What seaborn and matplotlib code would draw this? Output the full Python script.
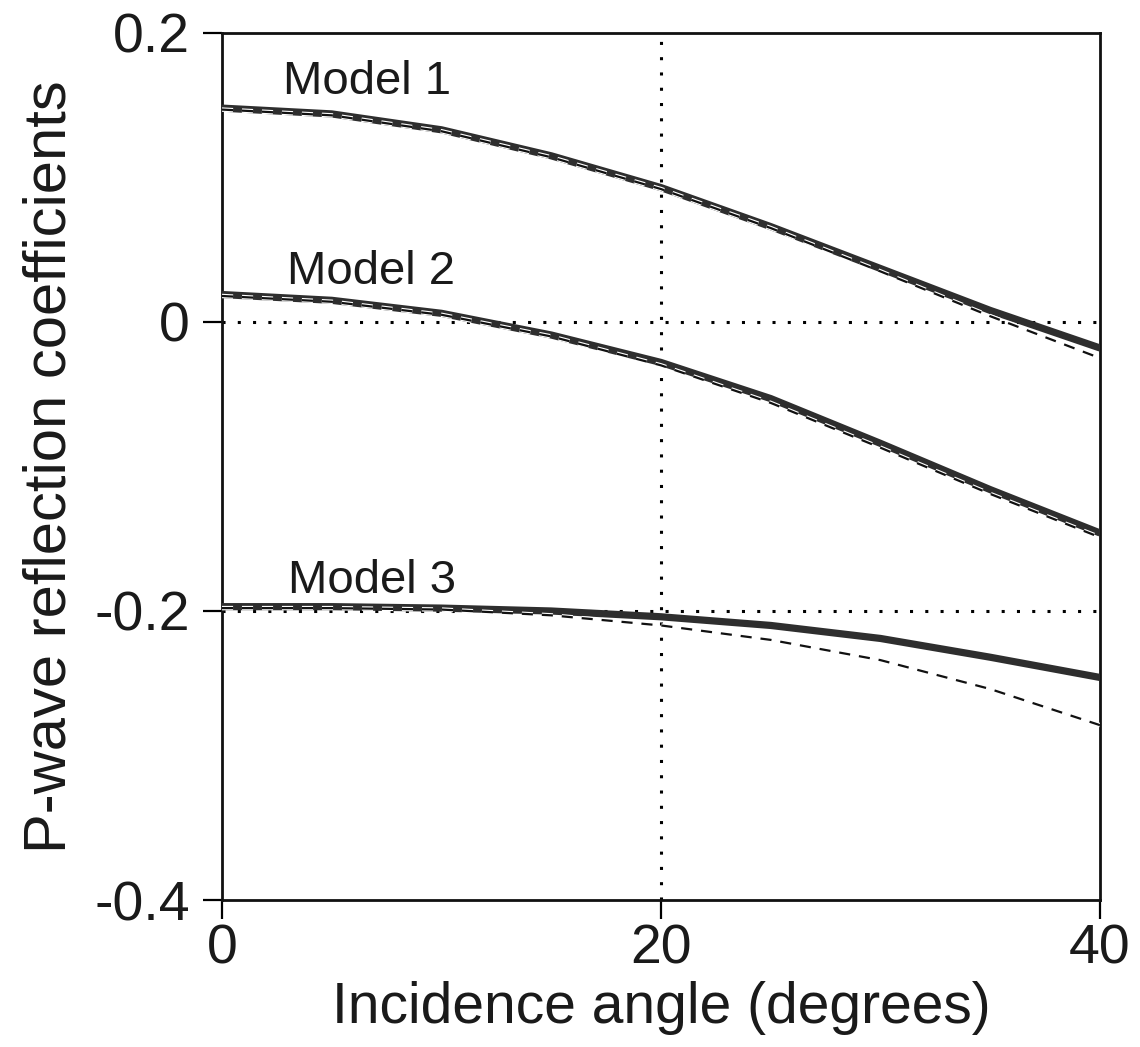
import numpy as np
import pandas as pd
import matplotlib
matplotlib.use("Agg")
import matplotlib.pyplot as plt
import matplotlib.patheffects as pe
import seaborn as sns

# Data (incidence angle in degrees)
angles = [0, 5, 10, 15, 20, 25, 30, 35, 40]

model1_exact = [0.148, 0.144, 0.133, 0.115, 0.093, 0.066, 0.037, 0.008, -0.018]
model1_approx = [0.147, 0.143, 0.132, 0.114, 0.092, 0.065, 0.035, 0.004, -0.025]

model2_exact = [0.019, 0.015, 0.006, -0.009, -0.028, -0.053, -0.084, -0.116, -0.146]
model2_approx = [0.018, 0.014, 0.005, -0.010, -0.030, -0.056, -0.087, -0.119, -0.149]

model3_exact = [-0.197, -0.197, -0.198, -0.200, -0.204, -0.210, -0.219, -0.232, -0.246]
model3_approx = [-0.198, -0.198, -0.199, -0.203, -0.210, -0.220, -0.234, -0.254, -0.279]

model_names = ["Model 1", "Model 2", "Model 3"]
label_x = [2.8, 2.95, 3.0]
label_y = [0.158, 0.026, -0.1875]

x_ticks = [0, 20, 40]
y_ticks = [-0.4, -0.2, 0, 0.2]
y_tick_labels = ["-0.4", "-0.2", "0", "0.2"]

sns.set_style("ticks")
plt.rcParams['font.family'] = ['Liberation Sans', 'DejaVu Sans']

fig = plt.figure(figsize=(11.4, 10.47), dpi=100)
ax = fig.add_axes([0.1947, 0.1404, 0.9649 - 0.1947, 0.9685 - 0.1404])

# reference dotted lines
for yv in [0, -0.2]:
    ax.axhline(yv, color='black', ls=(0, (1, 4)), lw=2.2, zorder=1)
ax.axvline(20, color='black', ls=(0, (1, 4)), lw=2.2, zorder=1)

exact = [model1_exact, model2_exact, model3_exact]
approx = [model1_approx, model2_approx, model3_approx]

for name, ye, ya in zip(model_names, exact, approx):
    df = pd.DataFrame({'angle': angles, 'exact': ye, 'approx': ya})
    sns.lineplot(data=df, x='angle', y='exact', ax=ax, color='#2e2e2e',
                 lw=5.2, zorder=3, solid_capstyle='butt', solid_joinstyle='round')
    sns.lineplot(data=df, x='angle', y='approx', ax=ax, color='#111111',
                 lw=1.6, zorder=4,
                 path_effects=[pe.Stroke(linewidth=3.2, foreground='white'), pe.Normal()])
    ax.lines[-1].set_linestyle((0, (5, 4)))

for name, lx, ly in zip(model_names, label_x, label_y):
    ax.text(lx, ly, name, fontsize=34, va='baseline', ha='left', color='#1a1a1a')

ax.set_xlim(0, 40)
ax.set_ylim(-0.4, 0.2)
ax.set_xticks(x_ticks)
ax.set_yticks(y_ticks)
ax.set_yticklabels(y_tick_labels)
ax.tick_params(axis='both', direction='out', length=14, width=1.6,
               labelsize=40, colors='black', labelcolor='#1a1a1a')
ax.tick_params(axis='y', pad=9)
ax.tick_params(axis='x', pad=3)

for s in ax.spines.values():
    s.set_visible(True)
    s.set_linewidth(2)
    s.set_color('#111111')

ax.set_xlabel("Incidence angle (degrees)", fontsize=41, color='#1a1a1a', labelpad=4)
ax.set_ylabel("P-wave reflection coefficients", fontsize=43, color='#1a1a1a', labelpad=12)

fig.savefig("out.png", dpi=100)
